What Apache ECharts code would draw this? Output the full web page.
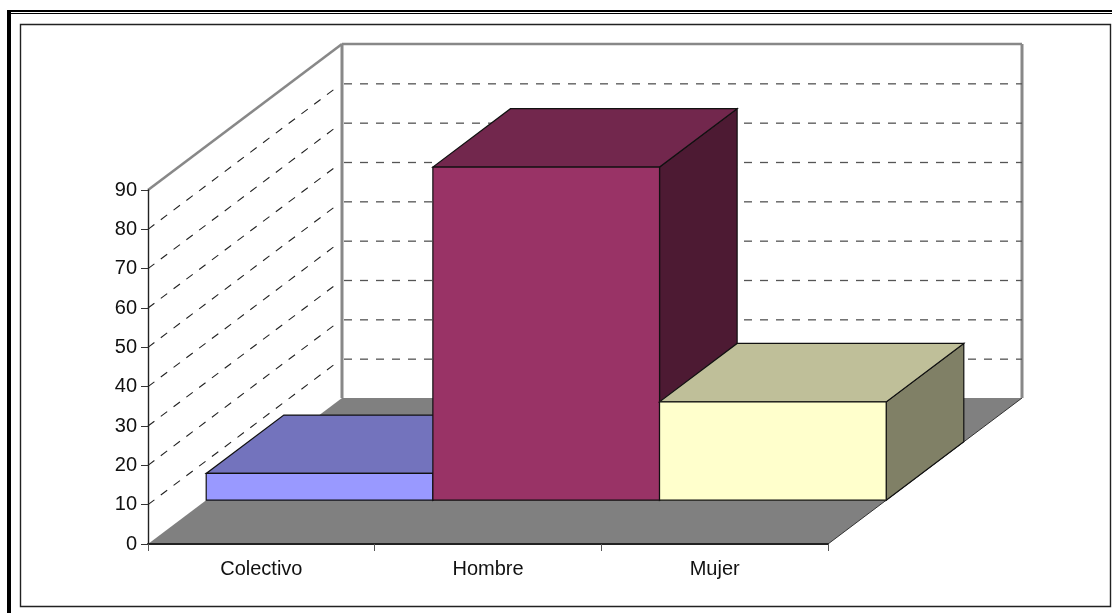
<!DOCTYPE html>
<html>
<head>
<meta charset="utf-8">
<style>html,body{margin:0;padding:0;background:#fff}#c{width:1112px;height:613px}</style>
<script src="https://cdn.jsdelivr.net/npm/echarts@6/dist/echarts.min.js"></script>
</head>
<body>
<div id="c"></div>
<script>
var categories = ['Colectivo', 'Hombre', 'Mujer'];
var values = [6.8, 84.7, 25];
var wallTicks = [10, 20, 30, 40, 50, 60, 70, 80];
var frontColors = ['#9999ff', '#993366', '#ffffcc'];
var topColors = ['#7373bd', '#72274d', '#bfbf99'];
var sideColors = ['#4d4d80', '#4d1a33', '#808066'];

// projection of the depth direction, in pixels
var DX = 194, DY = -146;
var AXIS_MAX = 90;

function shift(p, f) { return [p[0] + DX * f, p[1] + DY * f]; }
function poly(points, fill, stroke, lw) {
  return { type: 'polygon', shape: { points: points },
    style: { fill: fill, stroke: stroke || null, lineWidth: lw || 0, lineJoin: 'miter' } };
}
function seg(a, b, stroke, lw, dash) {
  return { type: 'line', shape: { x1: a[0], y1: a[1], x2: b[0], y2: b[1] },
    style: { stroke: stroke, lineWidth: lw, lineDash: dash || null, fill: null } };
}

var chart = echarts.init(document.getElementById('c'), null, { renderer: 'canvas' });
chart.setOption({
  animation: false,
  backgroundColor: '#ffffff',
  graphic: [
    { type: 'rect', z: 0, shape: { x: 7, y: 10, width: 4, height: 603 }, style: { fill: '#000' } },
    { type: 'rect', z: 0, shape: { x: 7, y: 10, width: 1105, height: 2 }, style: { fill: '#000' } },
    { type: 'rect', z: 0, shape: { x: 11, y: 13, width: 1101, height: 1 }, style: { fill: '#000' } },
    { type: 'rect', z: 0, shape: { x: 20.5, y: 24.5, width: 1090, height: 582 },
      style: { fill: null, stroke: '#222', lineWidth: 1.4 } }
  ],
  grid: { left: 148, top: 190, width: 680, height: 354, containLabel: false },
  xAxis: {
    type: 'category', data: categories, boundaryGap: true,
    axisLine: { show: true, onZero: false, lineStyle: { color: '#222', width: 2 } },
    axisTick: { show: true, length: 7, alignWithLabel: false, lineStyle: { color: '#555', width: 1 } },
    axisLabel: { color: '#111', fontFamily: 'Liberation Sans', fontSize: 20, margin: 15 },
    z: 5
  },
  yAxis: {
    type: 'value', min: 0, max: AXIS_MAX, interval: 10,
    axisLine: { show: true, lineStyle: { color: '#222', width: 1.4 } },
    axisTick: { show: true, length: 7, lineStyle: { color: '#333', width: 1 } },
    axisLabel: { color: '#111', fontFamily: 'Liberation Sans', fontSize: 20, margin: 11 },
    splitLine: { show: false },
    z: 5
  },
  series: [
    { // floor and walls
      type: 'custom', coordinateSystem: 'cartesian2d', z: 1, clip: false, silent: true,
      data: [0],
      renderItem: function (params, api) {
        var cs = params.coordSys, left = cs.x, right = cs.x + cs.width;
        var y0 = api.coord([0, 0])[1], yMax = api.coord([0, AXIS_MAX])[1];
        var fl = [left, y0], fr = [right, y0], tl = [left, yMax];
        var bl = shift(fl, 1), br = shift(fr, 1), btl = shift(tl, 1), btr = [br[0], btl[1]];
        return { type: 'group', children: [
          poly([fl, fr, br, bl], '#808080'),
          seg(fr, br, '#333', 1),
          seg(tl, btl, '#888', 2.6),
          seg(btl, btr, '#888', 2.6),
          seg(btl, bl, '#888', 3),
          seg(btr, br, '#888', 3)
        ] };
      }
    },
    { // gridlines on the side and back walls
      type: 'custom', coordinateSystem: 'cartesian2d', z: 2, clip: false, silent: true,
      encode: { y: 1 },
      data: wallTicks.map(function (v) { return [0, v]; }),
      renderItem: function (params, api) {
        var cs = params.coordSys;
        var p = [cs.x, api.coord([0, api.value(1)])[1]];
        var b = shift(p, 1);
        return { type: 'group', children: [
          seg(p, shift(p, 0.975), '#222', 1.1, [8, 8]),
          seg([b[0] + 2, b[1] + 0.5], [b[0] + cs.width, b[1] + 0.5], '#555', 1.3, [8, 8])
        ] };
      }
    },
    { // 3D bars
      type: 'custom', coordinateSystem: 'cartesian2d', z: 3, clip: false, silent: true,
      encode: { x: 0, y: 1 },
      data: values.map(function (v, i) { return [i, v]; }),
      renderItem: function (params, api) {
        var i = api.value(0), c = api.coord([i, api.value(1)]), base = api.coord([i, 0]);
        var band = api.size([1, 0])[0];
        var a = shift([c[0] - band / 2, base[1]], 0.3);
        var b = shift([c[0] + band / 2, base[1]], 0.3);
        var d = shift([c[0] - band / 2, c[1]], 0.3);
        var e = shift([c[0] + band / 2, c[1]], 0.3);
        var k = 0.4;
        var line = '#111';
        return { type: 'group', children: [
          poly([b, e, shift(e, k), shift(b, k)], sideColors[i], line, 1.2),
          poly([d, e, shift(e, k), shift(d, k)], topColors[i], line, 1.2),
          poly([a, b, e, d], frontColors[i], line, 1.2)
        ] };
      }
    }
  ]
});
</script>
</body>
</html>
